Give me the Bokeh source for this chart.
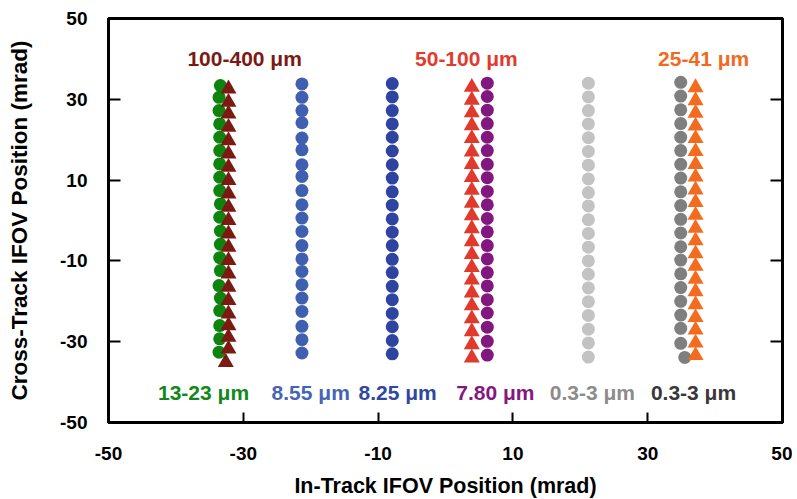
from bokeh.plotting import figure
from bokeh.models import LinearAxis, FixedTicker, ColumnDataSource
from bokeh.core.properties import value
from bokeh.embed import file_html
from bokeh.resources import INLINE

# ---- tick values and labels ----
x_ticks = [-50, -30, -10, 10, 30, 50]
y_ticks = [-50, -30, -10, 10, 30, 50]
x_tick_labels = ["-50", "-30", "-10", "10", "30", "50"]
y_tick_labels = ["-50", "-30", "-10", "10", "30", "50"]

# ---- series ----
green_x = [-33.4, -33.6, -33.6, -33.5, -33.5, -33.5, -33.5, -33.5, -33.5, -33.4, -33.5,
           -33.4, -33.4, -33.5, -33.4, -33.6, -33.4, -33.5, -33.5, -33.5, -33.6]
green_y = [33.4, 30.5, 27.2, 23.9, 20.6, 17.3, 14.0, 10.7, 7.4, 4.1, 0.8,
           -2.6, -5.9, -9.2, -12.4, -16.1, -19.2, -22.3, -26.0, -29.3, -32.6]

darkred_x = [-32.2] * 21 + [-32.6]
darkred_y = [32.6, 29.3, 26.4, 23.1, 19.8, 16.5, 13.2, 9.9, 6.6, 3.3, 0.0,
             -3.3, -6.6, -9.9, -13.2, -16.5, -19.8, -23.1, -26.0, -28.9, -31.8, -35.1]

blue855_x = [-21.3] * 21
blue855_y = [33.8, 30.5, 27.2, 24.2, 20.4, 17.5, 13.8, 10.9, 7.4, 3.9, 0.6,
             -2.7, -6.2, -9.5, -12.6, -15.9, -19.2, -22.5, -26.2, -29.5, -32.8]

blue825_x = [-7.9] * 21
blue825_y = [33.9, 30.6, 27.2, 23.9, 20.6, 17.2, 13.8, 10.5, 7.1, 3.8, 0.4,
             -2.9, -6.2, -9.6, -12.9, -16.3, -19.6, -23.0, -26.3, -29.7, -33.0]

red_x = [3.9] * 22
red_y = [33.0, 29.8, 26.7, 23.5, 20.3, 17.0, 13.9, 10.7, 7.5, 4.3, 1.2,
         -2.0, -5.2, -8.4, -11.6, -14.7, -17.9, -21.1, -24.3, -27.5, -30.7, -34.0]

purple_x = [6.2] * 21
purple_y = [34.0, 30.7, 27.3, 24.0, 20.6, 17.3, 13.9, 10.6, 7.2, 3.9, 0.5,
            -2.8, -6.2, -9.5, -12.9, -16.2, -19.6, -22.9, -26.4, -29.9, -33.3]

lgray_x = [21.2] * 21
lgray_y = [34.0, 30.6, 27.2, 23.9, 20.5, 17.1, 13.7, 10.3, 6.9, 3.6, 0.2,
           -3.2, -6.6, -10.0, -13.3, -16.7, -20.1, -23.5, -26.9, -30.3, -33.8]

gray_x = [34.9] * 20 + [35.5]
gray_y = [34.2, 30.8, 27.4, 24.0, 20.6, 17.3, 13.9, 10.5, 7.1, 3.7, 0.3,
          -3.1, -6.5, -9.8, -13.2, -16.6, -20.0, -23.4, -26.7, -30.4, -33.9]

orange_x = [37.1] * 22
orange_y = [32.9, 29.7, 26.6, 23.4, 20.3, 17.1, 13.9, 10.8, 7.6, 4.5, 1.3,
            -1.9, -5.0, -8.2, -11.3, -14.5, -17.6, -20.8, -24.0, -27.1, -30.3, -33.4]

# ---- band labels ----
label_text = ["100-400 \u03bcm", "50-100 \u03bcm", "25-41 \u03bcm",
              "13-23 \u03bcm", "8.55 \u03bcm", "8.25 \u03bcm", "7.80 \u03bcm",
              "0.3-3 \u03bcm", "0.3-3 \u03bcm"]
label_x = [-29.8, 3.1, 38.3, -35.9, -20.0, -7.1, 7.4, 21.8, 36.8]
label_y = [40.1, 40.1, 40.1, -42.6, -42.6, -42.6, -42.6, -42.6, -42.6]
label_color = ["#7b1a14", "#e23a2d", "#f06a22", "#12881a", "#4663b4",
               "#2f47a0", "#84187f", "#8c8c8c", "#383838"]

FONT = "Liberation Sans"

p = figure(x_range=(-50, 50), y_range=(-50, 50),
           frame_width=674, frame_height=404,
           min_border_left=108, min_border_top=18, min_border_right=10,
           min_border_bottom=78,
           output_backend="svg", toolbar_location=None,
           background_fill_color="white", border_fill_color="white")

p.xgrid.visible = False
p.ygrid.visible = False
p.outline_line_color = "black"
p.outline_line_width = 3
p.outline_line_alpha = 1.0

for ax, ticks, labs in ((p.xaxis[0], x_ticks, x_tick_labels),
                        (p.yaxis[0], y_ticks, y_tick_labels)):
    ax.ticker = FixedTicker(ticks=ticks)
    ax.major_label_overrides = {t: s for t, s in zip(ticks, labs)}
    ax.axis_line_width = 3
    ax.major_tick_line_width = 2
    ax.major_tick_out = 0
    ax.minor_tick_line_color = None
    ax.major_label_text_font = FONT
    ax.major_label_text_font_style = "bold"
    ax.major_label_text_font_size = "19px"
    ax.major_label_text_color = "black"
    ax.axis_label_text_font = FONT
    ax.axis_label_text_font_style = "bold"
    ax.axis_label_text_color = "black"

p.xaxis.major_tick_in = 10
p.xaxis.major_label_standoff = 24
p.xaxis.axis_label = "In-Track IFOV Position (mrad)"
p.xaxis.axis_label_text_font_size = "21.5px"
p.xaxis.axis_label_standoff = 11

p.yaxis.major_tick_in = 12
p.yaxis.major_label_standoff = 21
p.yaxis.axis_label = "Cross-Track IFOV Position (mrad)"
p.yaxis.axis_label_text_font_size = "22.5px"
p.yaxis.axis_label_standoff = 25

right = LinearAxis(ticker=FixedTicker(ticks=y_ticks),
                   major_label_overrides={t: "" for t in y_ticks},
                   major_label_text_font_size="1px",
                   major_tick_in=12, major_tick_out=0, major_tick_line_width=2,
                   axis_line_width=3, minor_tick_line_color=None,
                   major_label_standoff=0)
p.add_layout(right, "right")

series = [
    (green_x, green_y, "circle", "#0e840f", 13),
    (darkred_x, darkred_y, "triangle", "#7b1a12", 16),
    (blue855_x, blue855_y, "circle", "#3f5fb0", 13),
    (blue825_x, blue825_y, "circle", "#2e44a0", 13),
    (red_x, red_y, "triangle", "#e03a2c", 16),
    (purple_x, purple_y, "circle", "#82177f", 13),
    (lgray_x, lgray_y, "circle", "#c3c3c3", 13),
    (gray_x, gray_y, "circle", "#7f7f7f", 13),
    (orange_x, orange_y, "triangle", "#f26b1f", 16),
]
for xs, ys, marker, color, size in series:
    p.scatter(xs, ys, marker=marker, size=size, fill_color=color, line_color=None)

src = ColumnDataSource(dict(x=label_x, y=label_y, t=label_text, c=label_color))
p.text(x="x", y="y", text="t", text_color="c", source=src,
       text_font=value(FONT), text_font_style="bold", text_font_size="21px",
       text_align="center", text_baseline="middle")

open("out.html", "w").write(file_html(p, INLINE))
